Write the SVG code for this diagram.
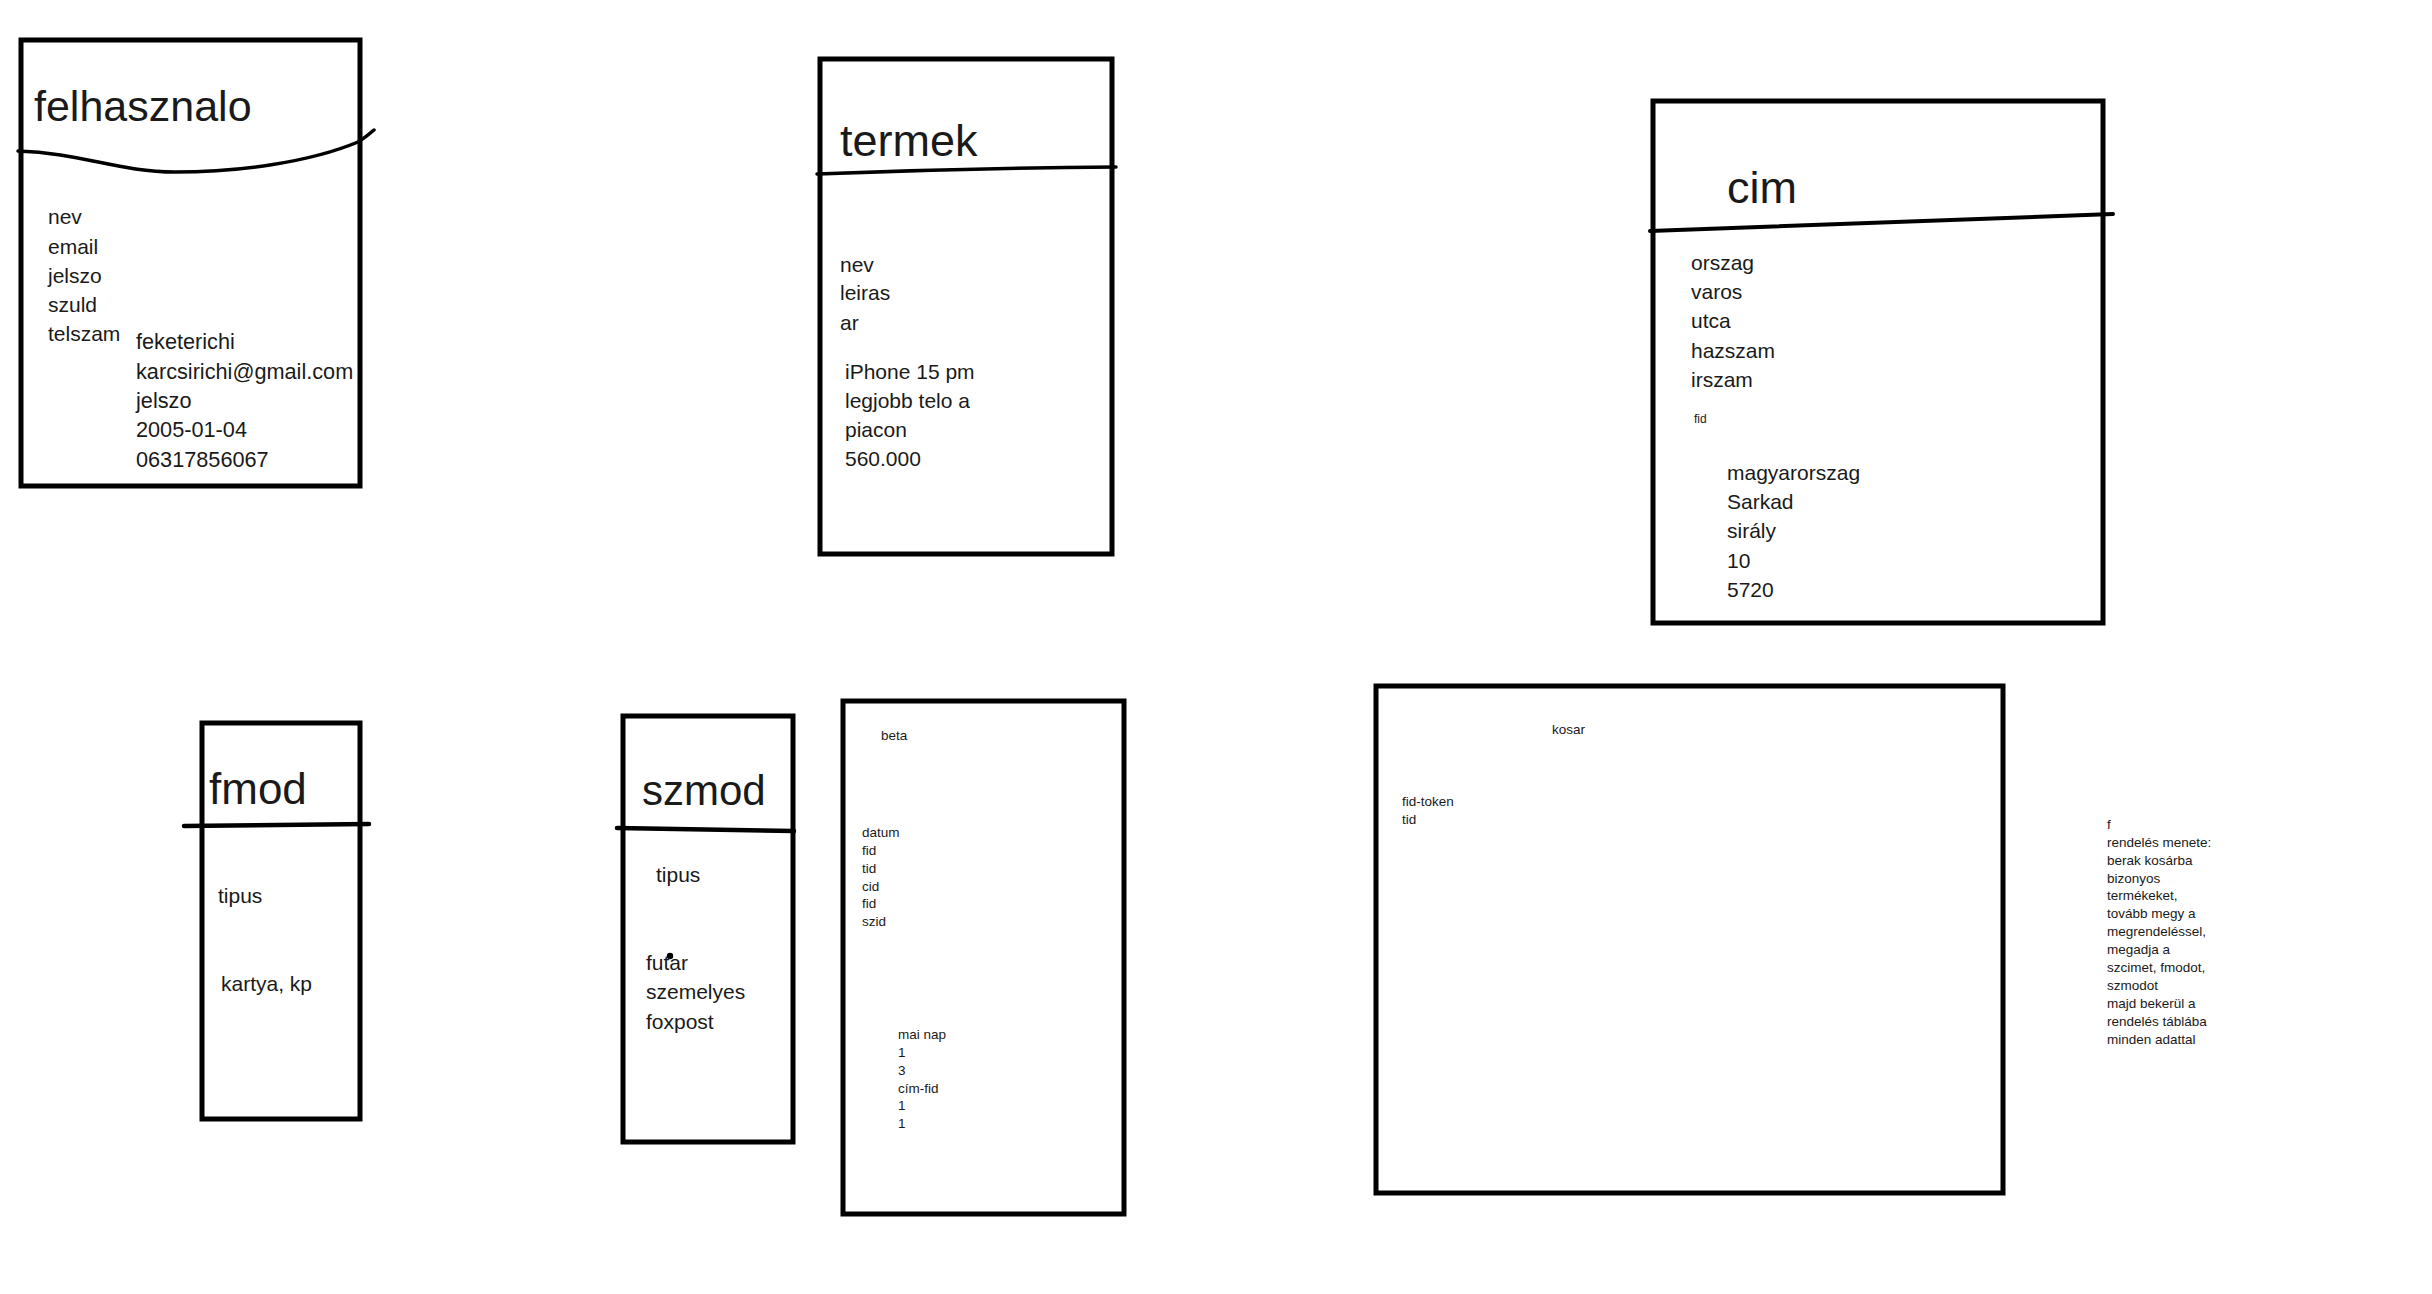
<svg xmlns="http://www.w3.org/2000/svg" width="2432" height="1294" viewBox="0 0 2432 1294">
<style>
.box{fill:none;stroke:#000;stroke-width:5}
.div{fill:none;stroke:#000;stroke-width:3.5;stroke-linecap:round}
text{font-family:"Liberation Sans",Arial,sans-serif;fill:#1a1a1a}
.t{font-size:44px}
.f{font-size:21px}
.s{font-size:13.5px}
</style>
<rect width="2432" height="1294" fill="#fff"/>
<g id="felhasznalo">
<rect class="box" x="21" y="40" width="339" height="446"/>
<text class="t" x="34" y="121" style="font-size:43px">felhasznalo</text>
<path class="div" d="M18,151 C80,153 120,172 175,172 C240,172 310,162 358,142 Q366,137 374,130"/>
<text class="f" x="48"><tspan x="48" y="224">nev</tspan><tspan x="48" y="254">email</tspan><tspan x="48" y="283">jelszo</tspan><tspan x="48" y="312">szuld</tspan><tspan x="48" y="341">telszam</tspan></text>
<text class="f" x="136" style="font-size:21.7px"><tspan x="136" y="349">feketerichi</tspan><tspan x="136" y="379">karcsirichi@gmail.com</tspan><tspan x="136" y="408">jelszo</tspan><tspan x="136" y="437">2005-01-04</tspan><tspan x="136" y="467">06317856067</tspan></text>
</g>
<g id="termek">
<rect class="box" x="820" y="59" width="292" height="495"/>
<text class="t" x="840" y="156" style="font-size:45px">termek</text>
<path class="div" d="M817,174 Q965,168 1116,167"/>
<text class="f"><tspan x="840" y="272">nev</tspan><tspan x="840" y="300">leiras</tspan><tspan x="840" y="330">ar</tspan></text>
<text class="f"><tspan x="845" y="379">iPhone 15 pm</tspan><tspan x="845" y="408">legjobb telo a</tspan><tspan x="845" y="437">piacon</tspan><tspan x="845" y="466">560.000</tspan></text>
</g>
<g id="cim">
<rect class="box" x="1653" y="101" width="450" height="522"/>
<text class="t" x="1727" y="203" style="font-size:45px">cim</text>
<path class="div" d="M1650,231 L2113,214" style="stroke-width:4"/>
<text class="f"><tspan x="1691" y="270">orszag</tspan><tspan x="1691" y="299">varos</tspan><tspan x="1691" y="328">utca</tspan><tspan x="1691" y="358">hazszam</tspan><tspan x="1691" y="387">irszam</tspan></text>
<text class="s" x="1694" y="423" style="font-size:12px">fid</text>
<text class="f"><tspan x="1727" y="480">magyarorszag</tspan><tspan x="1727" y="509">Sarkad</tspan><tspan x="1727" y="538">sirály</tspan><tspan x="1727" y="568">10</tspan><tspan x="1727" y="597">5720</tspan></text>
</g>
<g id="fmod">
<rect class="box" x="202" y="723" width="158" height="396"/>
<text class="t" x="209" y="804">fmod</text>
<path class="div" d="M184,826 L369,824" style="stroke-width:4.5"/>
<text class="f" x="218" y="903">tipus</text>
<text class="f" x="221" y="991">kartya, kp</text>
</g>
<g id="szmod">
<rect class="box" x="623" y="716" width="170" height="426"/>
<text class="t" x="642" y="805" style="font-size:42px">szmod</text>
<path class="div" d="M617,828 L794,831" style="stroke-width:4.5"/>
<text class="f" x="656" y="882">tipus</text>
<text class="f"><tspan x="646" y="970">futar</tspan><tspan x="646" y="999">szemelyes</tspan><tspan x="646" y="1029">foxpost</tspan></text>
<circle cx="670" cy="956" r="3.2" fill="#000"/>
</g>
<g id="beta">
<rect class="box" x="843" y="701" width="281" height="513"/>
<text class="s" x="881" y="740">beta</text>
<text class="s"><tspan x="862" y="837">datum</tspan><tspan x="862" y="855">fid</tspan><tspan x="862" y="873">tid</tspan><tspan x="862" y="891">cid</tspan><tspan x="862" y="908">fid</tspan><tspan x="862" y="926">szid</tspan></text>
<text class="s"><tspan x="898" y="1039">mai nap</tspan><tspan x="898" y="1057">1</tspan><tspan x="898" y="1075">3</tspan><tspan x="898" y="1093">cím-fid</tspan><tspan x="898" y="1110">1</tspan><tspan x="898" y="1128">1</tspan></text>
</g>
<g id="kosar">
<rect class="box" x="1376" y="686" width="627" height="507"/>
<text class="s" x="1552" y="734">kosar</text>
<text class="s"><tspan x="1402" y="806">fid-token</tspan><tspan x="1402" y="824">tid</tspan></text>
</g>
<g id="note">
<text class="s"><tspan x="2107" y="829">f</tspan><tspan x="2107" y="847">rendelés menete:</tspan><tspan x="2107" y="865">berak kosárba</tspan><tspan x="2107" y="883">bizonyos</tspan><tspan x="2107" y="900">termékeket,</tspan><tspan x="2107" y="918">tovább megy a</tspan><tspan x="2107" y="936">megrendeléssel,</tspan><tspan x="2107" y="954">megadja a</tspan><tspan x="2107" y="972">szcimet, fmodot,</tspan><tspan x="2107" y="990">szmodot</tspan><tspan x="2107" y="1008">majd bekerül a</tspan><tspan x="2107" y="1026">rendelés táblába</tspan><tspan x="2107" y="1044">minden adattal</tspan></text>
</g>
<g id="connectors"/>
</svg>
